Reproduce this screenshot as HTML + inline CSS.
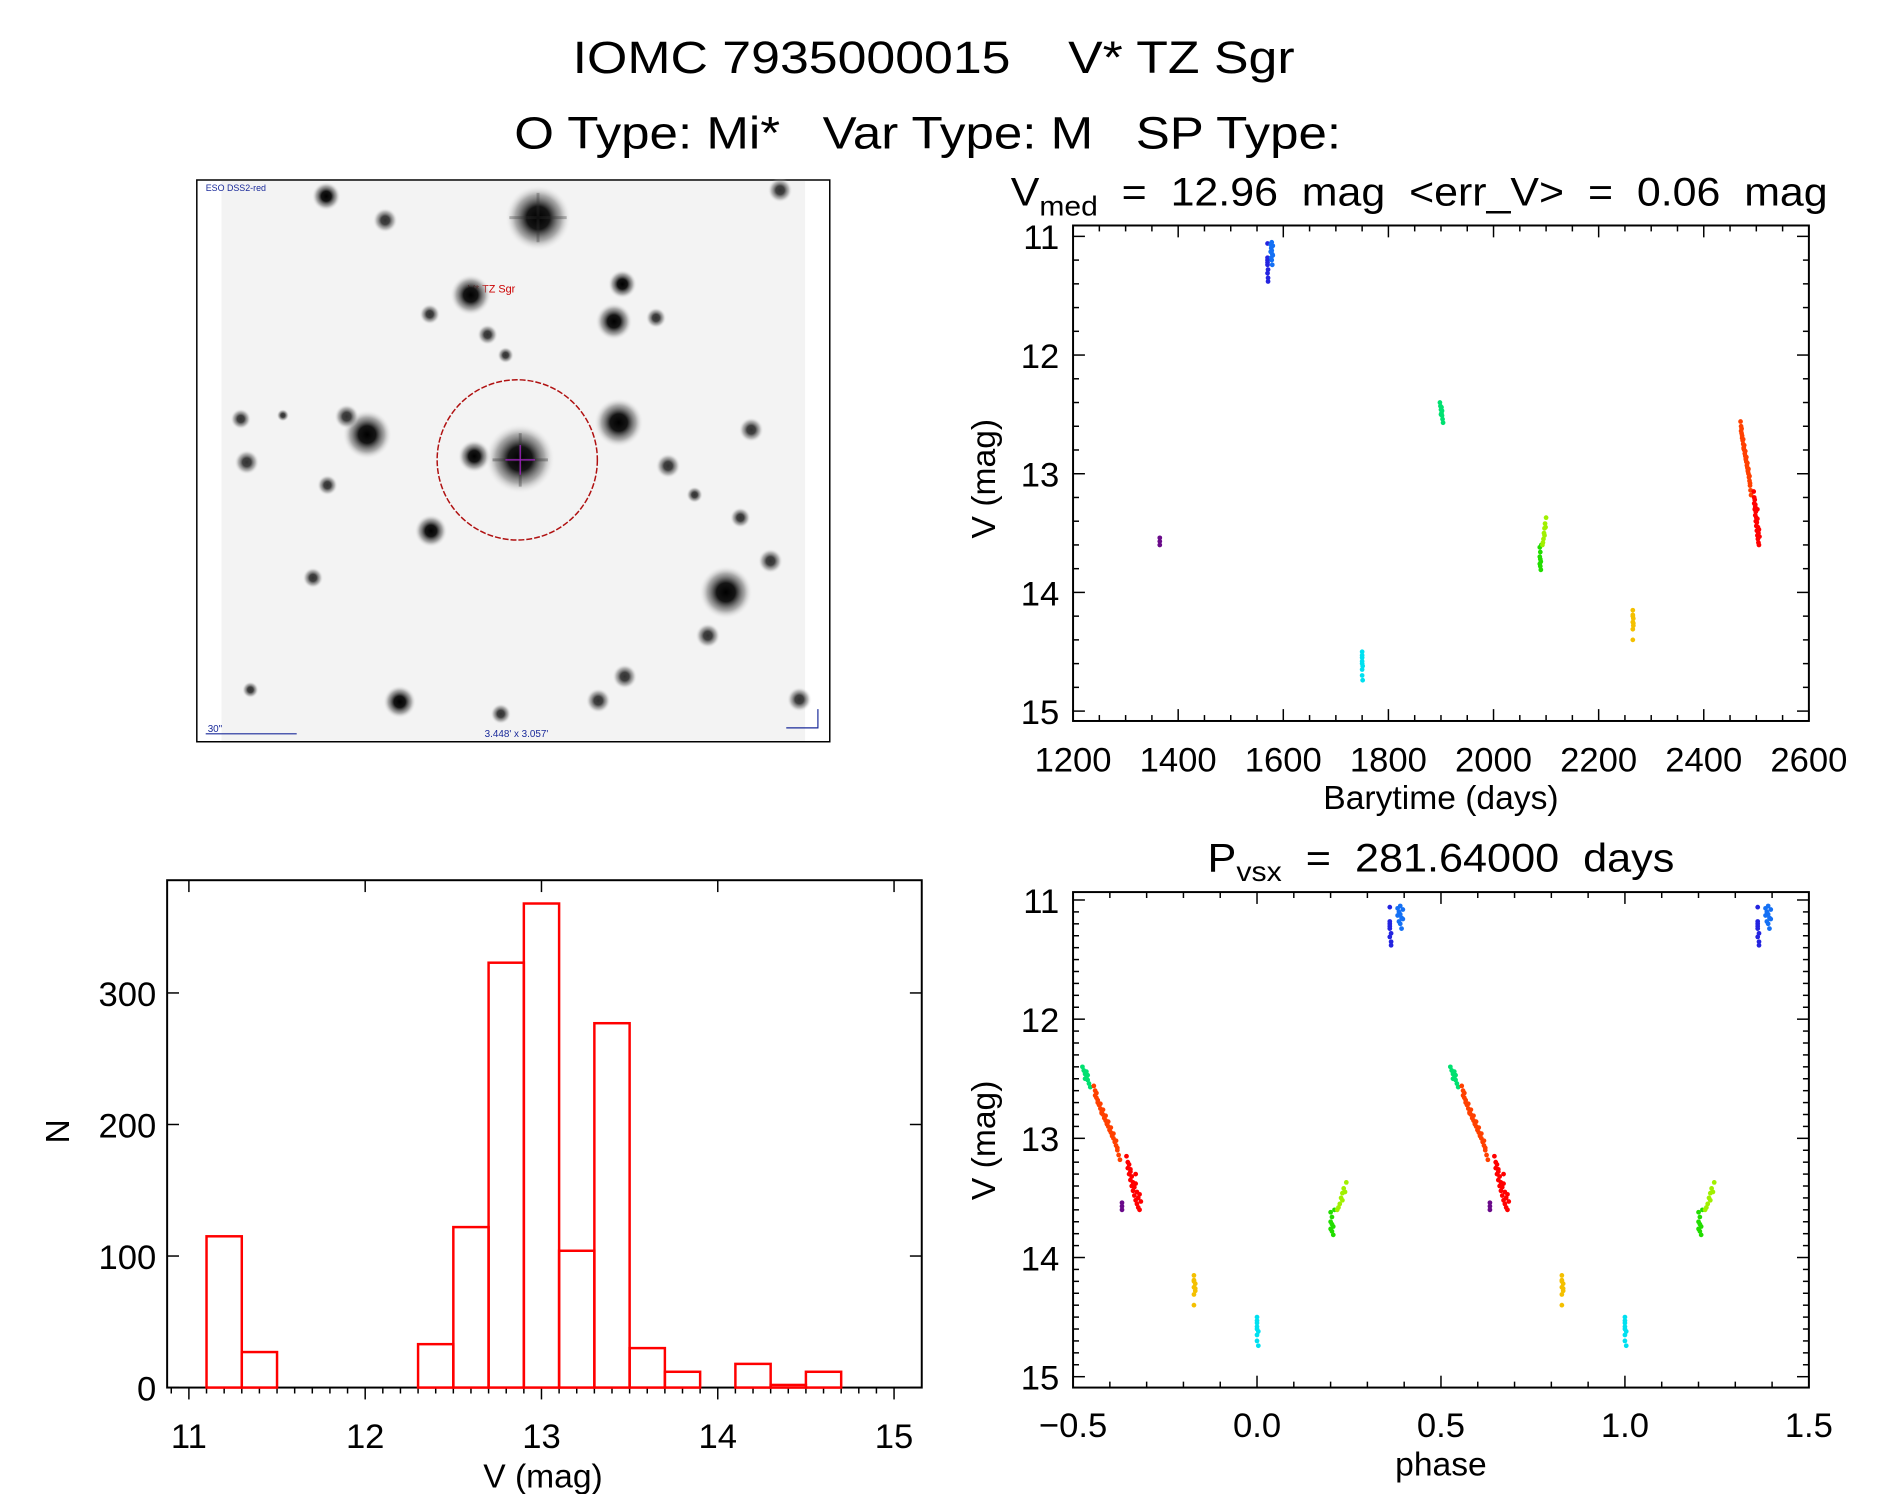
<!DOCTYPE html>
<html><head><meta charset="utf-8"><style>
html,body{margin:0;padding:0;background:#fff;}
svg{display:block;font-family:"Liberation Sans",sans-serif;}
text{white-space:pre;}
</style></head><body>
<svg id="fig" width="1889" height="1494" viewBox="0 0 1889 1494" xmlns="http://www.w3.org/2000/svg">
<defs>
<radialGradient id="star"><stop offset="0" stop-color="#000"/><stop offset="0.35" stop-color="#151515"/><stop offset="0.7" stop-color="#777" stop-opacity="0.6"/><stop offset="1" stop-color="#eee" stop-opacity="0"/></radialGradient>
</defs>
<g id="root" transform="scale(0.989)">
<text x="944" y="74" font-size="46" text-anchor="middle" textLength="730" lengthAdjust="spacingAndGlyphs">IOMC 7935000015    V* TZ Sgr</text>
<text x="938" y="150" font-size="46" text-anchor="middle" textLength="836" lengthAdjust="spacingAndGlyphs">O Type: Mi*   Var Type: M   SP Type:</text>

<g id="sky">
<rect x="199" y="182" width="640" height="568" fill="#fff" stroke="#000" stroke-width="1.5"/>
<rect x="224" y="183" width="590" height="566" fill="#f3f3f3"/>
<text x="208" y="193" font-size="9" fill="#1a2a9a">ESO DSS2-red</text>
<text x="473" y="296" font-size="11" fill="#c00">V* TZ Sgr</text>
<line x1="208" y1="742" x2="300" y2="742" stroke="#1a2a9a" stroke-width="1.2"/>
<text x="210" y="740" font-size="10" fill="#1a2a9a">30"</text>
<text x="490" y="745" font-size="10" fill="#1a2a9a">3.448' x 3.057'</text>
<path d="M827 717 V736 H795" fill="none" stroke="#1a2a9a" stroke-width="1.2"/>
<circle cx="523" cy="465" r="81" fill="none" stroke="#b01010" stroke-width="1.5" stroke-dasharray="6 2"/>
</g>

<g id="lc"></g>
<g id="ph"></g>
<g id="hist"></g>
</g>
</svg>
<script>
const NS="http://www.w3.org/2000/svg";
// ---------- data ----------
const histBinStart=[11.1,11.3,11.5,11.7,11.9,12.1,12.3,12.5,12.7,12.9,13.1,13.3,13.5,13.7,13.9,14.1,14.3,14.5];
const histCounts=[115,27,0,0,0,0,33,122,323,368,104,277,30,12,0,18,2,12];
const histXTicks=[11,12,13,14,15];
const histYTicks=[0,100,200,300];
const lcXTicks=[1200,1400,1600,1800,2000,2200,2400,2600];
const magTicks=[11,12,13,14,15];
const phaseTicks=[-0.5,0.0,0.5,1.0,1.5];
const period=281.64;
const epoch=1750;
const segColors=["#6a0a8a","#2424e0","#1470f4","#00e0f0","#00e070","#22dd00","#a0f000","#f4c000","#ff4000","#ff0000"];
const segTimes=[
[1365,1365,1365],
[1570,1570,1570,1571,1570,1571,1571,1570,1570],
[1576,1577,1578,1579,1577,1580,1578,1579,1576,1580,1578],
[1750,1750,1750,1751,1750,1750,1751,1750,1750],
[1898,1899,1900,1901,1902,1903,1904,1900,1902,1901],
[2088,2089,2088,2090,2089,2090,2091,2089,2088],
[2093,2095,2096,2097,2098,2100,2094,2097,2099],
[2265,2265,2266,2265,2266,2265,2265,2266,2265],
[2470,2471,2471,2472,2473,2473,2474,2475,2475,2476,2477,2477,2478,2479,2479,2480,2481,2481,2482,2483,2483,2484,2485,2485,2486,2487,2487,2488,2489,2490,2472,2476,2480,2484,2488],
[2495,2496,2496,2497,2497,2498,2498,2499,2499,2500,2500,2501,2501,2502,2502,2503,2503,2504,2504,2505,2505,2506,2498,2502]
];
const segMags=[
[13.54,13.57,13.6],
[11.06,11.2,11.24,11.28,11.31,11.35,11.38,11.22,11.18],
[11.07,11.1,11.12,11.15,11.18,11.08,11.2,11.24,11.13,11.16,11.05],
[14.5,14.55,14.58,14.62,14.65,14.7,14.74,14.6,14.53],
[12.4,12.43,12.46,12.49,12.51,12.54,12.57,12.5,12.47,12.44],
[13.62,13.66,13.7,13.74,13.78,13.81,13.6,13.72,13.76],
[13.6,13.55,13.5,13.46,13.42,13.37,13.58,13.52,13.45],
[14.15,14.19,14.22,14.25,14.28,14.31,14.4,14.26,14.2],
[12.56,12.6,12.64,12.62,12.68,12.7,12.72,12.75,12.71,12.78,12.8,12.76,12.83,12.85,12.81,12.88,12.9,12.86,12.93,12.95,12.91,12.98,13.0,12.96,13.03,13.06,13.02,13.1,13.14,13.18,12.66,12.79,12.87,12.97,13.08],
[13.15,13.2,13.25,13.22,13.3,13.28,13.35,13.32,13.4,13.37,13.44,13.41,13.48,13.3,13.52,13.45,13.55,13.5,13.58,13.47,13.6,13.53,13.26,13.38]
];
// ---------- helpers ----------
function el(tag,attrs,parent){const e=document.createElementNS(NS,tag);for(const k in attrs)e.setAttribute(k,attrs[k]);parent.appendChild(e);return e;}
function txt(parent,x,y,s,size,anchor){const t=el("text",{x:x,y:y,"font-size":size,"text-anchor":anchor||"middle"},parent);t.textContent=s;return t;}

// ---------- sky stars ----------
const sky=document.getElementById("sky");
const stars=[[447,181,16],[271,163,7],[320,183,6],[648,158,6],[391,245,10],[517,236,7],[510,267,9],[545,264,5],[357,261,5],[405,278,5],[305,361,12],[288,346,6],[514,351,12],[394,379,8],[432,381,17],[205,384,6],[200,348,5],[624,357,6],[555,387,6],[358,441,8],[615,430,5],[577,411,4],[640,466,6],[603,492,13],[588,528,6],[260,480,5],[519,562,6],[497,582,6],[332,583,8],[416,593,5],[664,581,6],[208,573,4],[272,403,5],[420,295,4],[235,345,3]];
const circ=sky.querySelector("circle");
stars.forEach(s=>{const c=el("circle",{cx:s[0]*1.2172,cy:s[1]*1.2172,r:s[2]*1.2172*1.7,fill:"url(#star)",opacity:s[2]<7?0.8:1},sky);


sky.insertBefore(c,circ);});
el("path",{d:"M526 438 V492 M498 465 H554",stroke:"#333","stroke-width":3,opacity:0.35},sky);
el("path",{d:"M544 195 V245 M515 220 H573",stroke:"#333","stroke-width":3,opacity:0.3},sky);
el("path",{d:"M526 450 V480 M511 465 H541",stroke:"#a020c0","stroke-width":1.2},sky);

// ---------- generic axes ----------
function axes(g,L,R,T,B,xmin,xmax,xMinor,xMajor){
  const sx=v=>L+(v-xmin)/(xmax-xmin)*(R-L);
  el("rect",{x:L,y:T,width:R-L,height:B-T,fill:"none",stroke:"#000","stroke-width":2},g);
  for(let v=xmin;v<=xmax+1e-6;v+=xMinor){const maj=Math.abs(v/xMajor-Math.round(v/xMajor))<1e-4;const len=maj?12:6;const x=sx(v);
    el("line",{x1:x,y1:B,x2:x,y2:B-len,stroke:"#000","stroke-width":1.5},g);el("line",{x1:x,y1:T,x2:x,y2:T+len,stroke:"#000","stroke-width":1.5},g);}
  return sx;
}
function yTicksInward(g,L,R,sy,from,to,step,major){
  for(let v=from;v<=to+1e-6;v+=step){const maj=Math.abs(v/major-Math.round(v/major))<1e-4;const len=maj?12:6;const y=sy(v);
    el("line",{x1:L,y1:y,x2:L+len,y2:y,stroke:"#000","stroke-width":1.5},g);el("line",{x1:R,y1:y,x2:R-len,y2:y,stroke:"#000","stroke-width":1.5},g);}
}

// ---------- light curve ----------
(function(){
const g=document.getElementById("lc");
const L=1085,R=1829,T=228,B=729;
const sx=axes(g,L,R,T,B,1200,2600,50,200);
const sy=v=>239+(v-11)/4*(719-239);
yTicksInward(g,L,R,sy,11,15,0.2,1);
lcXTicks.forEach(v=>{const t=txt(g,sx(v),780,String(v),35);});
magTicks.forEach(v=>{const t=txt(g,1071,sy(v)+13,String(v),35,"end");});
const ti=el("text",{x:1022,y:208,"font-size":40},g);

ti.innerHTML='V<tspan font-size="28" dy="10">med</tspan><tspan dy="-10">  =  12.96  mag  &lt;err_V&gt;  =  0.06  mag</tspan>';
ti.setAttribute("textLength","826");ti.setAttribute("lengthAdjust","spacingAndGlyphs");
const xt=txt(g,1457,818,"Barytime (days)",34);
const yt=txt(g,0,0,"V (mag)",34);yt.setAttribute("transform","translate(1006,484) rotate(-90)");
segTimes.forEach((ts,i)=>ts.forEach((t,j)=>{const c=el("circle",{cx:sx(t),cy:sy(segMags[i][j]),r:2.4,fill:segColors[i]},g);
}));
})();

// ---------- phase ----------
(function(){
const g=document.getElementById("ph");
const L=1085,R=1829,T=902,B=1403;
const sx=axes(g,L,R,T,B,-0.5,1.5,0.1,0.5);
const sy=v=>910+(v-11)/4*(1392-910);
yTicksInward(g,L,R,sy,11,15,0.1,1);
phaseTicks.forEach(v=>{const t=txt(g,sx(v),1453,(v<0?"\u2212":"")+Math.abs(v).toFixed(1),35);});
magTicks.forEach(v=>{const t=txt(g,1071,sy(v)+13,String(v),35,"end");});
const ti=el("text",{x:1221,y:881,"font-size":40},g);

ti.innerHTML='P<tspan font-size="28" dy="10">vsx</tspan><tspan dy="-10">  =  '+period.toFixed(5)+'  days</tspan>';
ti.setAttribute("textLength","472");ti.setAttribute("lengthAdjust","spacingAndGlyphs");
const xt=txt(g,1457,1492,"phase",34);
const yt=txt(g,0,0,"V (mag)",34);yt.setAttribute("transform","translate(1006,1153) rotate(-90)");
segTimes.forEach((ts,i)=>ts.forEach((t,j)=>{let p=((t-epoch)/period)%1;if(p<0)p+=1;
[p-1,p,p+1].forEach(q=>{if(q<-0.5||q>1.5)return;const c=el("circle",{cx:sx(q),cy:sy(segMags[i][j]),r:2.4,fill:segColors[i]},g);
});}));
})();

// ---------- histogram ----------
(function(){
const g=document.getElementById("hist");
const L=169,R=932,T=890,B=1403;
const sx=v=>191+(v-11)/4*(904-191);
const sy=v=>B-v*1.33;
el("rect",{x:L,y:T,width:R-L,height:B-T,fill:"none",stroke:"#000","stroke-width":2},g);
for(let k=0;k<=41;k++){const v=10.9+k*0.1;const x=sx(v);if(x<L||x>R)continue;const maj=Math.abs(v-Math.round(v))<1e-4;
  el("line",{x1:x,y1:B,x2:x,y2:B+(maj?12:6),stroke:"#000","stroke-width":1.5},g);
  if(maj)el("line",{x1:x,y1:T,x2:x,y2:T+12,stroke:"#000","stroke-width":1.5},g);}
histYTicks.forEach(v=>{const y=sy(v);el("line",{x1:L,y1:y,x2:L+12,y2:y,stroke:"#000","stroke-width":1.5},g);el("line",{x1:R,y1:y,x2:R-12,y2:y,stroke:"#000","stroke-width":1.5},g);
 const t=txt(g,158,y+13,String(v),35,"end");});
histXTicks.forEach(v=>{const t=txt(g,sx(v),1464,String(v),35);});
const xt=txt(g,549,1504,"V (mag)",34);
const yt=txt(g,0,0,"N",34);yt.setAttribute("transform","translate(70,1144) rotate(-90)");
histCounts.forEach((n,i)=>{const x0=sx(histBinStart[i]),x1=sx(histBinStart[i]+0.2);
 const r=el("rect",{x:x0,y:sy(n),width:x1-x0,height:B-sy(n),fill:"none",stroke:"#ff0000","stroke-width":2.5},g);
 });
})();
</script>
</body></html>
